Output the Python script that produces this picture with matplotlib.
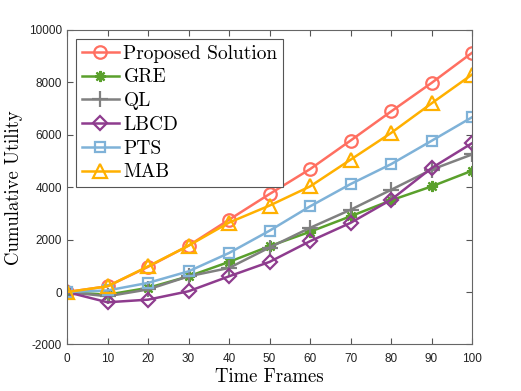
import matplotlib
matplotlib.use('Agg')
from matplotlib import pyplot as plt
import numpy as np

# time frames, markers every 10
frames = [0, 10, 20, 30, 40, 50, 60, 70, 80, 90, 100]

proposed = [0, 220, 960, 1770, 2760, 3740, 4690, 5780, 6890, 7980, 9130]
gre = [0, -100, 160, 600, 1150, 1750, 2300, 2890, 3500, 4030, 4630]
ql = [0, -160, 100, 600, 920, 1700, 2450, 3140, 3900, 4670, 5250]
lbcd = [0, -390, -290, 30, 600, 1150, 1940, 2640, 3520, 4730, 5680]
pts = [0, 60, 350, 790, 1490, 2340, 3270, 4120, 4880, 5770, 6670]
mab = [0, 220, 980, 1770, 2650, 3300, 4030, 5050, 6070, 7200, 8300]

labels = ['Proposed Solution', 'GRE', 'QL', 'LBCD', 'PTS', 'MAB']
colors = ['#FF6F61', '#5AA02C', '#808080', '#8E3C8E', '#7FB2D8', '#FFB000']
markers = ['o', (8, 2, 0), '+', 'D', 's', '^']
sizes = [9, 8, 11, 7, 7.5, 10]

fig = plt.figure(figsize=(5.21, 3.91), dpi=100)
ax = fig.add_axes([0.1286, 0.1190, 0.7774, 0.8043])

series = [proposed, gre, ql, lbcd, pts, mab]
for vals, lab, c, m, ms in zip(series, labels, colors, markers, sizes):
    ax.plot(frames, vals, color=c, marker=m, markersize=ms, markerfacecolor='none',
            markeredgecolor=c, markeredgewidth=1.6, linewidth=1.8, label=lab)

ax.set_xlim(0, 100)
ax.set_ylim(-2000, 10000)
ax.set_xticks(range(0, 101, 10))
ax.set_yticks(range(-2000, 10001, 2000))
ax.set_yticklabels(['-2000', '0', '2000', '4000', '6000', '8000', '10000'])
for lbl in ax.get_xticklabels() + ax.get_yticklabels():
    lbl.set_fontfamily('Liberation Sans')
    lbl.set_fontsize(8.5)
ax.tick_params(direction='in', top=True, right=True, length=4, color='#555555',
               labelcolor='#222222', width=0.8)
ax.tick_params(axis='x', pad=6)
for sp in ax.spines.values():
    sp.set_color('#666666')
    sp.set_linewidth(0.8)

ax.set_xlabel('Time Frames', fontfamily='cmr10', fontsize=13.5, labelpad=2)
ax.set_ylabel('Cumulative Utility', fontfamily='cmr10', fontsize=13.5, labelpad=4)

leg = ax.legend(loc='upper left', prop={'family': 'cmr10', 'size': 14}, fancybox=False,
                edgecolor='#555555', framealpha=1, borderaxespad=0.45, handlelength=1.9,
                handletextpad=0.25, labelspacing=0.3, borderpad=0.3)
leg.get_frame().set_linewidth(0.8)

plt.savefig('out.png', dpi=100)
